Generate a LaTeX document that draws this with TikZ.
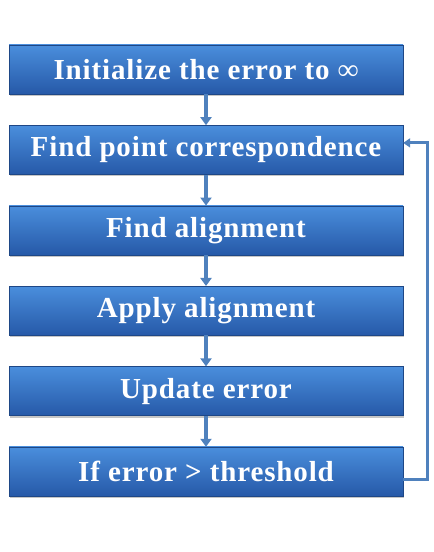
\documentclass[tikz,border=0pt]{standalone}
\usepackage{fontspec}
\setmainfont{Liberation Serif}[LetterSpace=3]
\usetikzlibrary{positioning,shadows,arrows.meta}

\definecolor{boxtop}{HTML}{4A8EDC}
\definecolor{boxbot}{HTML}{2659A8}
\definecolor{linkblue}{HTML}{4F81BD}

\tikzset{
  stepbox/.style={rectangle, minimum width=394pt, minimum height=49pt,
    top color=boxtop, bottom color=boxbot, draw=boxbot!80!black, line width=0.4pt,
    drop shadow={shadow xshift=1pt, shadow yshift=-2pt, opacity=0.45},
    text=white, font=\bfseries\fontsize{29}{32}\selectfont, inner sep=0pt},
  link/.style={draw=linkblue, line width=4pt, -{Triangle[length=8pt,width=11pt]}},
  back/.style={draw=linkblue, line width=3pt, -{Triangle[length=7pt,width=9pt]}}
}

\begin{document}
\begin{tikzpicture}[x=1pt, y=1pt, node distance=31pt]
  % Page size
  \useasboundingbox (0,0) rectangle (434,552);
  % Boxes
  \node[stepbox] (init) at (206,482.5) {Initialize the error to ∞};
  \node[stepbox, below=of init] (corr) {Find point correspondence};
  \node[stepbox, below=of corr] (align) {Find alignment};
  \node[stepbox, below=of align] (apply) {Apply alignment};
  \node[stepbox, below=of apply] (update) {Update error};
  \node[stepbox, below=of update] (test) {If error > threshold};
  % Arrows down
  \draw[link] (init) -- (corr);
  \draw[link] (corr) -- (align);
  \draw[link] (align) -- (apply);
  \draw[link] (apply) -- (update);
  \draw[link] (update) -- (test);
  % Loop back
  \coordinate (loop) at (427,0);
  \draw[back] ([yshift=-8pt]test.east) -- ([yshift=-8pt]test.east -| loop)
    |- ([yshift=7pt]corr.east);
\end{tikzpicture}
\end{document}
